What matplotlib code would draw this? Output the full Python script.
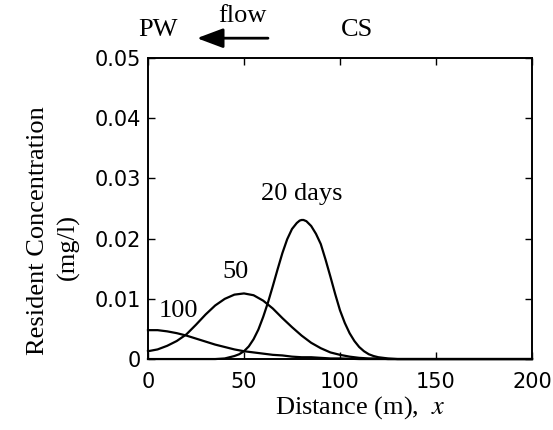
import matplotlib
matplotlib.use("Agg")
import matplotlib.pyplot as plt

# distance (m) and resident concentration (mg/l)
x_20 = [0, 35, 40, 42.5, 45, 47.5, 50, 52.5, 55, 57.5, 60, 62.5, 65, 67.5, 70,
        72.5, 75, 77.5, 79, 80, 81, 82.5, 85, 87.5, 90, 92.5, 95, 97.5, 100,
        102.5, 105, 107.5, 110, 112.5, 115, 117.5, 120, 122.5, 125, 130, 200]
c_20 = [0, 0, 0.0001, 0.0003, 0.0005, 0.0008, 0.0013, 0.0021, 0.0033, 0.0049,
        0.0070, 0.0094, 0.0121, 0.0149, 0.0176, 0.0199, 0.0216, 0.0226, 0.0230,
        0.0231, 0.0231, 0.0229, 0.0221, 0.0208, 0.0191, 0.0165, 0.0137, 0.0108,
        0.0081, 0.0060, 0.0043, 0.0030, 0.0020, 0.0013, 0.0008, 0.0005, 0.0003,
        0.0002, 0.0001, 0, 0]

x_50 = [0, 5, 10, 15, 20, 25, 30, 35, 40, 45, 50, 55, 60, 65, 70, 75, 80, 85,
        90, 95, 100, 105, 110, 115, 120, 125, 200]
c_50 = [0.0013, 0.0016, 0.0022, 0.0030, 0.0041, 0.0057, 0.0074, 0.0089, 0.0100,
        0.0107, 0.0109, 0.0106, 0.0097, 0.0084, 0.0068, 0.0053, 0.0039, 0.0027,
        0.0018, 0.0011, 0.0007, 0.0004, 0.0002, 0.0001, 0.0001, 0, 0]

x_100 = [0, 5, 10, 15, 20, 25, 30, 35, 40, 45, 50, 55, 60, 65, 70, 75, 80, 85,
         90, 95, 100, 110, 200]
c_100 = [0.0048, 0.0048, 0.0046, 0.0043, 0.0039, 0.0034, 0.0029, 0.0024,
         0.0020, 0.0016, 0.0013, 0.0011, 0.0009, 0.0007, 0.0006, 0.0004,
         0.0003, 0.0003, 0.0002, 0.0001, 0.0001, 0, 0]

xticks = [0, 50, 100, 150, 200]
yticks = [0, 0.01, 0.02, 0.03, 0.04, 0.05]
ytick_labels = ["0", "0.01", "0.02", "0.03", "0.04", "0.05"]

serif = "Liberation Serif"
fs = 19
plt.rcParams["mathtext.fontset"] = "stix"

fig = plt.figure(figsize=(5.53, 4.30), dpi=100)
ax = fig.add_axes([0.2676, 0.165, 0.6944, 0.700])

for xs, cs in [(x_20, c_20), (x_50, c_50), (x_100, c_100)]:
    ax.plot(xs, cs, color="black", lw=1.6, clip_on=False,
            solid_joinstyle="round")

ax.set_xlim(0, 200)
ax.set_ylim(0, 0.05)
ax.set_xticks(xticks)
ax.set_yticks(yticks)
ax.set_yticklabels(ytick_labels)
ax.tick_params(direction="in", length=5, width=1, top=True, right=True,
               labelsize=15, pad=5)
ax.tick_params(axis="x", pad=9)
for lab in ax.get_xticklabels() + ax.get_yticklabels():
    lab.set_family("DejaVu Sans")
for sp in ax.spines.values():
    sp.set_linewidth(1.4)

ax.set_xlabel("Distance (m),  $x$", fontsize=fs, family=serif)
ax.xaxis.set_label_coords(0.552, -0.118)

fig.text(38 / 553, 1 - 231 / 430, "Resident Concentration", rotation=90,
         ha="center", va="center", fontsize=fs, family=serif)
fig.text(68 / 553, 1 - 247 / 430, "(mg/l)", rotation=90,
         ha="center", va="center", fontsize=fs, family=serif)

# curve labels
ax.text(80.3, 0.0274, "20 days", ha="center", va="center", fontsize=fs, family=serif)
ax.text(45.6, 0.0144, "50", ha="center", va="center", fontsize=fs, family=serif)
ax.text(15.8, 0.0080, "100", ha="center", va="center", fontsize=fs, family=serif)

# flow direction above the plot
ax.text(5, 0.0547, "PW", ha="center", va="center", fontsize=fs, family=serif,
        clip_on=False)
ax.text(109, 0.0547, "CS", ha="center", va="center", fontsize=fs, family=serif,
        clip_on=False)
ax.text(49, 0.0570, "flow", ha="center", va="center", fontsize=fs, family=serif,
        clip_on=False)
ax.annotate("", xy=(25.5, 0.0533), xytext=(62.5, 0.0533),
            arrowprops=dict(arrowstyle="-|>,head_length=0.8,head_width=0.3",
                            mutation_scale=20, lw=2, color="black",
                            shrinkA=0, shrinkB=0),
            annotation_clip=False)

fig.savefig("out.png", dpi=100)
